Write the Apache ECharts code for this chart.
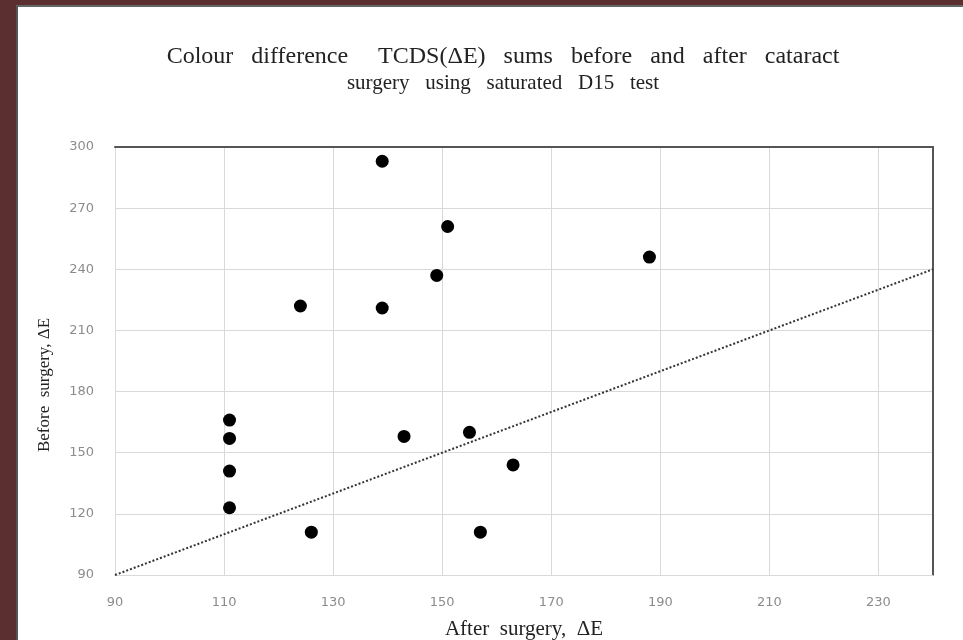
<!DOCTYPE html>
<html>
<head>
<meta charset="utf-8">
<script src="https://cdn.jsdelivr.net/npm/echarts@6/dist/echarts.min.js"></script>
<style>
    html, body { margin: 0; padding: 0; width: 963px; height: 640px; background: #5b2f2f; overflow: hidden; }
    #frame { position: absolute; left: 16px; top: 5px; width: 947px; height: 635px; background: #fff;
             border-left: 2px solid #555; border-top: 2px solid #666; box-sizing: border-box; }
    #chart { width: 100%; height: 100%; }
</style>
</head>
<body>
<div id="frame"><div id="chart"></div></div>
<script>
// 散点数据：术后 / 术前 ΔE
var afterSurgery  = [139, 151, 149, 188, 124, 139, 111, 111, 111, 111, 126, 143, 155, 163, 157];
var beforeSurgery = [293, 261, 237, 246, 222, 221, 166, 157, 141, 123, 111, 158, 160, 144, 111];
// y = x 参考线两端
var refLine = [90, 240];
// 横轴刻度
var xTicks = [90, 110, 130, 150, 170, 190, 210, 230];

var points = [];
for (var i = 0; i < afterSurgery.length; i++) {
    points.push([afterSurgery[i], beforeSurgery[i]]);
}

var myChart = echarts.init(document.getElementById('chart'));

var labelStyle = { color: '#8c8c8c', fontSize: 13, fontFamily: 'DejaVu Sans' };
var gridLine = { show: true, lineStyle: { color: '#d9d9d9', width: 1 } };
var serif = 'Liberation Serif';

var option = {
    animation: false,
    title: {
        text: '{a|Colour   difference     TCDS(ΔE)   sums   before   and   after   cataract}\n' +
              '{b|surgery   using   saturated   D15   test}',
        left: 480,
        textAlign: 'center',
        top: 32,
        textStyle: {
            fontWeight: 'normal',
            rich: {
                a: { fontFamily: serif, fontSize: 24, fontWeight: 'normal', color: '#222', lineHeight: 26 },
                b: { fontFamily: serif, fontSize: 21, fontWeight: 'normal', color: '#222', lineHeight: 26 }
            }
        }
    },
    grid: { left: 97, right: 30, top: 140, bottom: 65, outerBoundsMode: 'none' },
    xAxis: [{
        type: 'value',
        min: 90,
        max: 240,
        name: 'After  surgery,  ΔE',
        nameLocation: 'middle',
        nameGap: 44,
        nameTextStyle: { fontFamily: serif, fontSize: 21, color: '#222' },
        axisLine: { show: true, lineStyle: { color: '#d9d9d9' } },
        axisTick: { show: false, customValues: xTicks },
        axisLabel: Object.assign({ margin: 21, customValues: xTicks }, labelStyle),
        splitLine: gridLine
    }, {
        type: 'value',
        position: 'top',
        min: 90,
        max: 240,
        axisLine: { show: true, lineStyle: { color: '#555', width: 2 } },
        axisTick: { show: false },
        axisLabel: { show: false },
        splitLine: { show: false }
    }],
    yAxis: [{
        type: 'value',
        min: 90,
        max: 300,
        interval: 30,
        name: 'Before  surgery, ΔE',
        nameLocation: 'middle',
        nameGap: 62,
        nameTextStyle: { fontFamily: serif, fontSize: 17, color: '#222', padding: [0, 48, 0, 0] },
        axisLine: { show: true, lineStyle: { color: '#d9d9d9' } },
        axisTick: { show: false },
        axisLabel: Object.assign({ margin: 21 }, labelStyle),
        splitLine: gridLine
    }, {
        type: 'value',
        position: 'right',
        min: 90,
        max: 300,
        interval: 30,
        axisLine: { show: true, lineStyle: { color: '#555', width: 2 } },
        axisTick: { show: false },
        axisLabel: { show: false },
        splitLine: { show: false }
    }],
    series: [{
        type: 'line',
        data: [[refLine[0], refLine[0]], [refLine[1], refLine[1]]],
        symbol: 'none',
        lineStyle: { color: '#333', width: 2, type: [2, 2] },
        z: 1
    }, {
        type: 'scatter',
        data: points,
        symbolSize: 13,
        itemStyle: { color: '#000', opacity: 1 },
        z: 3
    }]
};

myChart.setOption(option);
</script>
</body>
</html>
